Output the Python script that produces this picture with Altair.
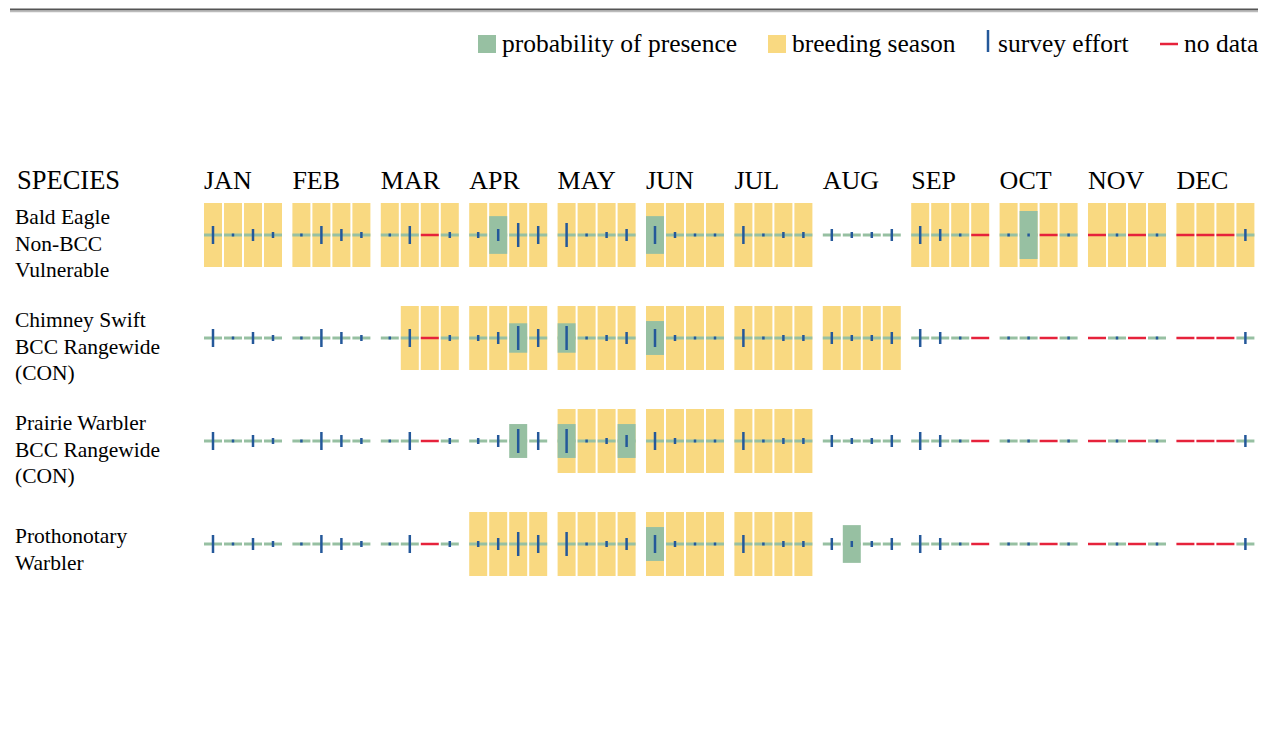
import altair as alt
import pandas as pd

# ---------------- data ----------------
months = ["JAN", "FEB", "MAR", "APR", "MAY", "JUN", "JUL", "AUG", "SEP", "OCT", "NOV", "DEC"]
species = ["Bald Eagle", "Chimney Swift", "Prairie Warbler", "Prothonotary Warbler"]
species_labels = [
    "Bald Eagle\nNon-BCC\nVulnerable",
    "Chimney Swift\nBCC Rangewide\n(CON)",
    "Prairie Warbler\nBCC Rangewide\n(CON)",
    "Prothonotary\nWarbler",
]

# survey effort level per week (0 = very few ... 4 = many); None = no data
survey_effort = [
    3, 0, 2, 1,      # JAN
    0, 3, 2, 1,      # FEB
    0, 3, None, 1,   # MAR
    1, 2, 4, 3,      # APR
    4, 0, 1, 2,      # MAY
    3, 1, 0, 0,      # JUN
    3, 0, 1, 1,      # JUL
    2, 1, 1, 2,      # AUG
    3, 2, 0, None,   # SEP
    0, 0, None, 0,   # OCT
    None, 0, None, 0,  # NOV
    None, None, None, 2,  # DEC
]

# breeding season, one string of 4 weeks per month
breeding_bald_eagle = ["1111", "1111", "1111", "1111", "1111", "1111", "1111", "0000", "1111", "1111", "1111", "1111"]
breeding_chimney_swift = ["0000", "0000", "0111", "1111", "1111", "1111", "1111", "1111", "0000", "0000", "0000", "0000"]
breeding_prairie_warbler = ["0000", "0000", "0000", "0000", "1111", "1111", "1111", "0000", "0000", "0000", "0000", "0000"]
breeding_prothonotary = ["0000", "0000", "0000", "1111", "1111", "1111", "1111", "0000", "0000", "0000", "0000", "0000"]
breeding = [breeding_bald_eagle, breeding_chimney_swift, breeding_prairie_warbler, breeding_prothonotary]

# probability of presence (0-10): (month, week 1-4, value)
presence_bald_eagle = [("APR", 2, 5.9), ("JUN", 1, 5.9), ("OCT", 2, 7.5)]
presence_chimney_swift = [("APR", 3, 4.6), ("MAY", 1, 4.6), ("JUN", 1, 5.3)]
presence_prairie_warbler = [("APR", 3, 5.3), ("MAY", 1, 5.3), ("MAY", 4, 5.3)]
presence_prothonotary = [("JUN", 1, 5.3), ("AUG", 2, 5.9)]
presence = [presence_bald_eagle, presence_chimney_swift, presence_prairie_warbler, presence_prothonotary]

legend_labels = ["probability of presence", "breeding season", "survey effort", "no data"]

# ---------------- table ----------------
rows = []
for s, sp in enumerate(species):
    pres = {(months.index(mo), wk - 1): v for mo, wk, v in presence[s]}
    for m in range(12):
        for w in range(4):
            eff = survey_effort[m * 4 + w]
            rows.append({
                "species": sp,
                "s": s,
                "m": m,
                "w": w,
                "breeding": int(breeding[s][m][w]),
                "prob": pres.get((m, w), 0),
                "nodata": 1 if eff is None else 0,
                "effort": -1 if eff is None else eff,
            })
df = pd.DataFrame(rows)
species_df = pd.DataFrame({"s": list(range(len(species))), "label": species_labels})
month_df = pd.DataFrame({"m": list(range(12)), "month": months})

# ---------------- styling ----------------
SERIF = "Liberation Serif"
YELLOW = "#F9D981"
GREEN = "#97C0A2"
BLUE = "#24589A"
RED = "#E6223B"

W, H = 1248, 600
MONTH_STEP = 4.42  # week units per month (incl. gap)
ROW_PX = 103.0
xs = alt.Scale(domain=[0, 52.52], range=[194, 194 + 1050.4])
ys = alt.Scale(domain=[0, 3], range=[227, 227 + 3 * ROW_PX])

base = alt.Chart(df).transform_calculate(
    xc=f"datum.m * {MONTH_STEP} + datum.w + 0.45"
)
X = alt.X("xc:Q", scale=xs, axis=None)
Y = alt.Y("s:Q", scale=ys, axis=None)

yellow = base.transform_filter("datum.breeding == 1").mark_tick(
    orient="vertical", thickness=18, color=YELLOW, opacity=1
).encode(x=X, y=Y, size=alt.value(64))

prob = base.transform_filter("datum.prob > 0").mark_tick(
    orient="vertical", thickness=18, color=GREEN, opacity=1
).encode(
    x=X, y=Y,
    size=alt.Size("prob:Q", scale=alt.Scale(domain=[0, 10], range=[0, 64]), legend=None),
)

baseline = base.transform_filter("datum.nodata == 0").mark_tick(
    orient="horizontal", thickness=3, color=GREEN, opacity=1
).encode(x=X, y=Y, size=alt.value(18))

nodata = base.transform_filter("datum.nodata == 1").mark_tick(
    orient="horizontal", thickness=2.5, color=RED, opacity=1
).encode(x=X, y=Y, size=alt.value(18))

effort = base.transform_filter("datum.nodata == 0").mark_tick(
    orient="vertical", thickness=2.5, color=BLUE, opacity=1
).encode(
    x=X, y=Y,
    size=alt.Size(
        "effort:Q",
        scale=alt.Scale(type="threshold", domain=[0.5, 1.5, 2.5, 3.5], range=[3, 6, 12, 18, 24]),
        legend=None,
    ),
)

month_text = alt.Chart(month_df).transform_calculate(
    xs=f"datum.m * {MONTH_STEP}"
).mark_text(align="left", baseline="middle", font=SERIF, fontSize=26, color="black").encode(
    x=alt.X("xs:Q", scale=xs, axis=None), y=alt.value(173), text="month:N"
)

one = pd.DataFrame({"k": [0]})
species_head = alt.Chart(one).mark_text(
    align="left", baseline="middle", font=SERIF, fontSize=26.5, color="black", text="SPECIES"
).encode(x=alt.value(7), y=alt.value(173))

# place multi-line labels on their row
species_text = alt.Chart(species_df).transform_calculate(
    ys=f"datum.s - (length(split(datum.label, '\\n')) - 1) * 10 / {ROW_PX}"
).mark_text(
    align="left", baseline="middle", font=SERIF, fontSize=21.5, color="black",
    lineBreak="\n", lineHeight=26.5, dy=3
).encode(x=alt.value(5), y=alt.Y("ys:Q", scale=ys, axis=None), text="label:N")

# legend
LY = 36
leg_green = alt.Chart(one).mark_square(color=GREEN, opacity=1, size=324).encode(x=alt.value(477), y=alt.value(LY))
leg_yellow = alt.Chart(one).mark_square(color=YELLOW, opacity=1, size=324).encode(x=alt.value(767), y=alt.value(LY))
leg_blue = alt.Chart(one).mark_rule(color=BLUE, strokeWidth=2.5).encode(x=alt.value(978), y=alt.value(LY - 14), y2=alt.value(LY + 8))
leg_red = alt.Chart(one).mark_rule(color=RED, strokeWidth=2.5).encode(x=alt.value(1150), x2=alt.value(1168), y=alt.value(LY))

def leg_text(label, x):
    return alt.Chart(one).mark_text(
        align="left", baseline="middle", font=SERIF, fontSize=25.5, color="black", text=label
    ).encode(x=alt.value(x), y=alt.value(LY))

leg_texts = [leg_text(legend_labels[0], 492), leg_text(legend_labels[1], 782),
             leg_text(legend_labels[2], 988), leg_text(legend_labels[3], 1174)]

top_dark = alt.Chart(one).mark_rule(color="#555555", strokeWidth=2).encode(x=alt.value(0), x2=alt.value(W), y=alt.value(1.5))
top_light = alt.Chart(one).mark_rule(color="#BBBBBB", strokeWidth=1.5).encode(x=alt.value(0), x2=alt.value(W), y=alt.value(3.5))

chart = alt.layer(
    top_dark, top_light,
    yellow, prob, baseline, nodata, effort,
    month_text, species_head, species_text,
    leg_green, leg_yellow, leg_blue, leg_red, *leg_texts,
).properties(
    width=W, height=H,
    padding={"left": 1, "top": 0, "right": 2, "bottom": 2},
    background="white",
).configure_view(stroke=None)

chart.save("out.html", embed_options={"renderer": "svg", "actions": False})
